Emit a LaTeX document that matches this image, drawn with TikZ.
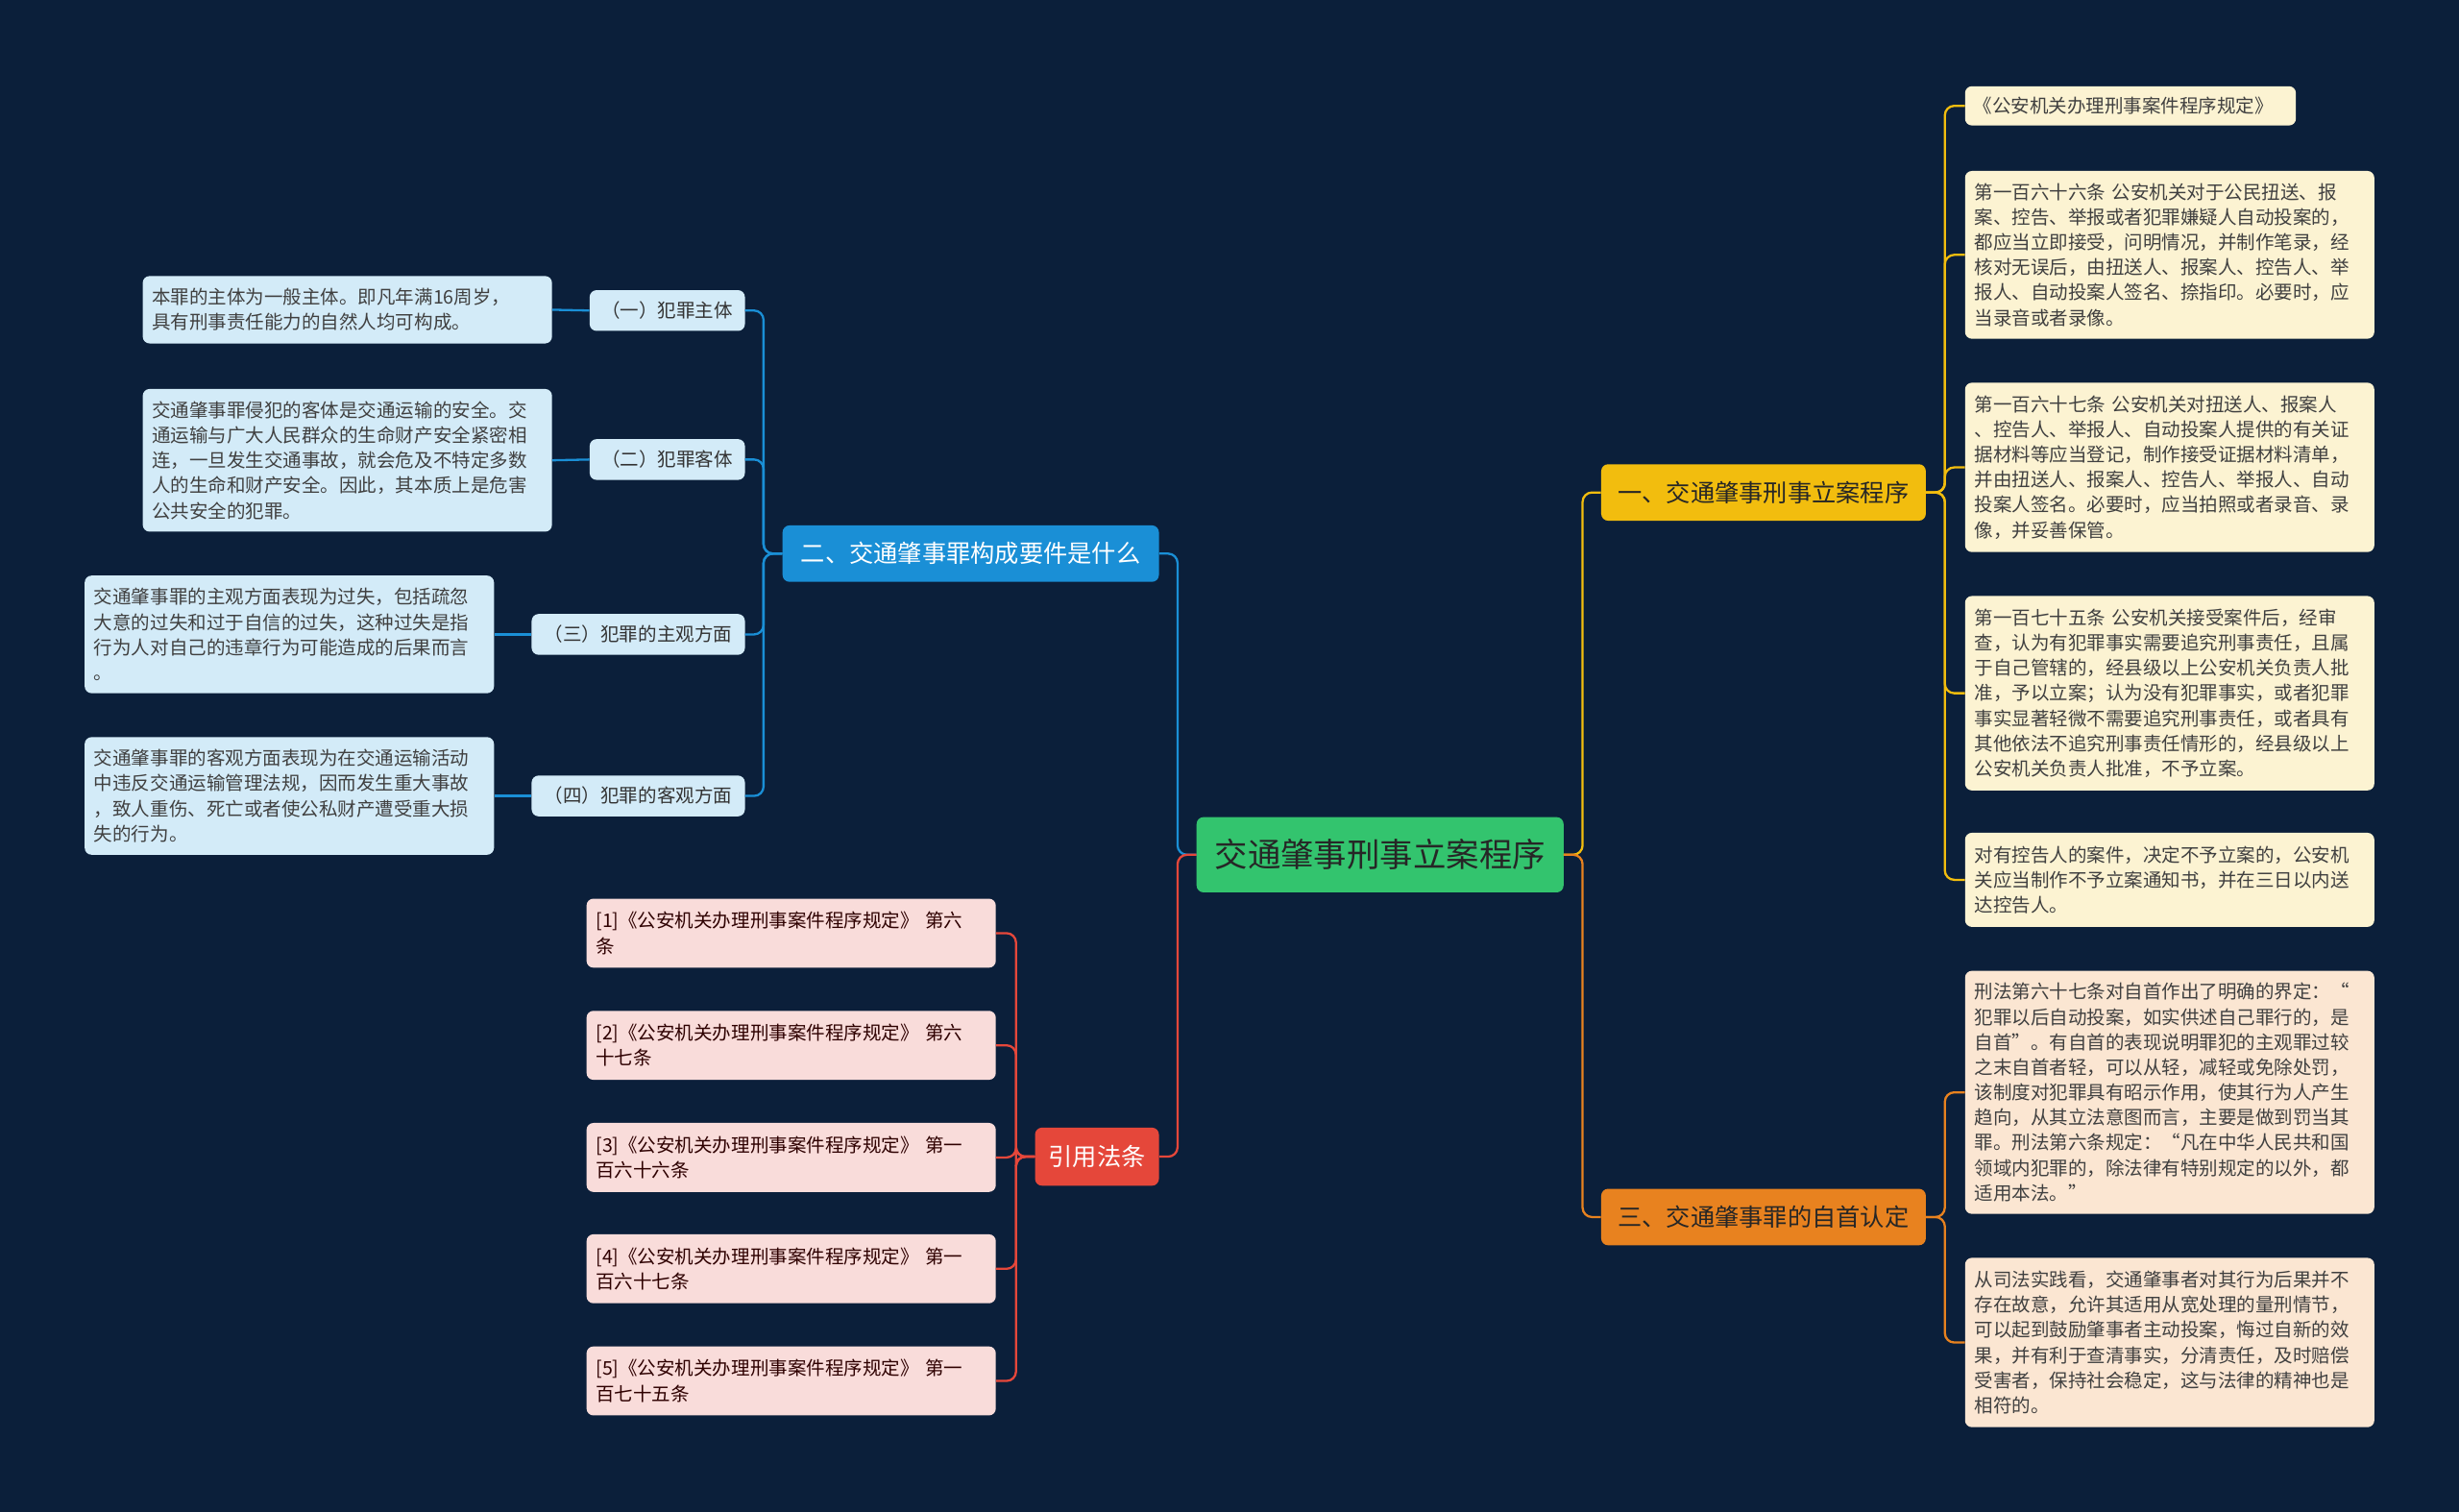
\documentclass[tikz,border=0pt]{standalone}
\usepackage{fontspec}
\setmainfont{Noto Sans CJK SC}
\usetikzlibrary{calc}
\definecolor{bg}{HTML}{0B1F3A}
\definecolor{cgreen}{HTML}{33C46E}
\definecolor{cyellow}{HTML}{F2BD0E}
\definecolor{corange}{HTML}{E8821F}
\definecolor{cblue}{HTML}{1A8FD6}
\definecolor{cred}{HTML}{E5473A}
\definecolor{fyellow}{HTML}{FCF3D2}
\definecolor{forange}{HTML}{FBE6D2}
\definecolor{fblue}{HTML}{D3EBF8}
\definecolor{fred}{HTML}{F9DCDA}
\begin{document}
\begin{tikzpicture}[x=0.05cm,y=-0.05cm,
  box/.style={rounded corners=0.22cm,inner sep=0pt,align=left},
  leaf/.style={box,font=\fontsize{17}{22.8}\selectfont,text=black!75},
  branch/.style={box,align=center,minimum height=1.8cm,font=\fontsize{22}{26}\selectfont},
  conn/.style={line width=2pt,rounded corners=0.3cm},
  sub/.style={box,fill=fblue,minimum height=1.3cm,font=\fontsize{17}{22}\selectfont,text=black!80,align=center}]
\fill[bg] (0,0) rectangle (1568,964);
\useasboundingbox (0,0) rectangle (1568,964);
% root and branches
\node[box,fill=cgreen,minimum width=11.7cm,minimum height=2.4cm,font=\fontsize{30}{34}\selectfont,text=black!85,align=center] (root) at (880,545) {交通肇事刑事立案程序};
\node[branch,fill=cyellow,minimum width=10.35cm,text=black!85] (b1) at (1124.5,314) {一、交通肇事刑事立案程序};
\node[branch,fill=corange,minimum width=10.35cm,text=black!85] (b3) at (1124.5,776) {三、交通肇事罪的自首认定};
\node[branch,fill=cblue,minimum width=12cm,text=white] (b2) at (619,353) {二、交通肇事罪构成要件是什么};
\node[branch,fill=cred,minimum width=3.95cm,minimum height=1.85cm,text=white] (b4) at (699.5,737.5) {引用法条};
% right leaves
\node[leaf,fill=fyellow,minimum width=10.55cm,minimum height=1.25cm,text width=10.0cm] (y1) at (1358.5,67.5) {《公安机关办理刑事案件程序规定》};
\node[leaf,fill=fyellow,minimum width=13.05cm,minimum height=5.35cm,text width=12.45cm] (y2) at (1383.5,162.5) {第一百六十六条 公安机关对于公民扭送、报\\案、控告、举报或者犯罪嫌疑人自动投案的，\\都应当立即接受，问明情况，并制作笔录，经\\核对无误后，由扭送人、报案人、控告人、举\\报人、自动投案人签名、捺指印。必要时，应\\当录音或者录像。};
\node[leaf,fill=fyellow,minimum width=13.05cm,minimum height=5.4cm,text width=12.45cm] (y3) at (1383.5,298) {第一百六十七条 公安机关对扭送人、报案人\\、控告人、举报人、自动投案人提供的有关证\\据材料等应当登记，制作接受证据材料清单，\\并由扭送人、报案人、控告人、举报人、自动\\投案人签名。必要时，应当拍照或者录音、录\\像，并妥善保管。};
\node[leaf,fill=fyellow,minimum width=13.05cm,minimum height=6.2cm,text width=12.45cm] (y4) at (1383.5,442) {第一百七十五条 公安机关接受案件后，经审\\查，认为有犯罪事实需要追究刑事责任，且属\\于自己管辖的，经县级以上公安机关负责人批\\准，予以立案；认为没有犯罪事实，或者犯罪\\事实显著轻微不需要追究刑事责任，或者具有\\其他依法不追究刑事责任情形的，经县级以上\\公安机关负责人批准，不予立案。};
\node[leaf,fill=fyellow,minimum width=13.05cm,minimum height=3.0cm,text width=12.45cm] (y5) at (1383.5,561) {对有控告人的案件，决定不予立案的，公安机\\关应当制作不予立案通知书，并在三日以内送\\达控告人。};
\node[leaf,fill=forange,minimum width=13.05cm,minimum height=7.75cm,text width=12.45cm] (o1) at (1383.5,696.5) {刑法第六十七条对自首作出了明确的界定：“\\犯罪以后自动投案，如实供述自己罪行的，是\\自首”。有自首的表现说明罪犯的主观罪过较\\之末自首者轻，可以从轻，减轻或免除处罚，\\该制度对犯罪具有昭示作用，使其行为人产生\\趋向，从其立法意图而言，主要是做到罚当其\\罪。刑法第六条规定：“凡在中华人民共和国\\领域内犯罪的，除法律有特别规定的以外，都\\适用本法。”};
\node[leaf,fill=forange,minimum width=13.05cm,minimum height=5.4cm,text width=12.45cm] (o2) at (1383.5,856) {从司法实践看，交通肇事者对其行为后果并不\\存在故意，允许其适用从宽处理的量刑情节，\\可以起到鼓励肇事者主动投案，悔过自新的效\\果，并有利于查清事实，分清责任，及时赔偿\\受害者，保持社会稳定，这与法律的精神也是\\相符的。};
% blue subs
\node[sub,minimum width=4.95cm] (s1) at (425.5,198) {（一）犯罪主体};
\node[sub,minimum width=4.95cm] (s2) at (425.5,293) {（二）犯罪客体};
\node[sub,minimum width=6.8cm] (s3) at (407,404.5) {（三）犯罪的主观方面};
\node[sub,minimum width=6.8cm] (s4) at (407,507.5) {（四）犯罪的客观方面};
\node[leaf,fill=fblue,minimum width=13.05cm,minimum height=2.15cm,text width=12.45cm] (t1) at (221.5,197.5) {本罪的主体为一般主体。即凡年满16周岁，\\具有刑事责任能力的自然人均可构成。};
\node[leaf,fill=fblue,minimum width=13.05cm,minimum height=4.55cm,text width=12.45cm] (t2) at (221.5,293.5) {交通肇事罪侵犯的客体是交通运输的安全。交\\通运输与广大人民群众的生命财产安全紧密相\\连，一旦发生交通事故，就会危及不特定多数\\人的生命和财产安全。因此，其本质上是危害\\公共安全的犯罪。};
\node[leaf,fill=fblue,minimum width=13.05cm,minimum height=3.75cm,text width=12.45cm] (t3) at (184.5,404.5) {交通肇事罪的主观方面表现为过失，包括疏忽\\大意的过失和过于自信的过失，这种过失是指\\行为人对自己的违章行为可能造成的后果而言\\。};
\node[leaf,fill=fblue,minimum width=13.05cm,minimum height=3.75cm,text width=12.45cm] (t4) at (184.5,507.5) {交通肇事罪的客观方面表现为在交通运输活动\\中违反交通运输管理法规，因而发生重大事故\\，致人重伤、死亡或者使公私财产遭受重大损\\失的行为。};
% red leaves
\node[leaf,fill=fred,minimum width=13.05cm,minimum height=2.2cm,text width=12.45cm,text=black!70!red!60!black] (r1) at (504.5,595) {[1]《公安机关办理刑事案件程序规定》 第六\\条};
\node[leaf,fill=fred,minimum width=13.05cm,minimum height=2.2cm,text width=12.45cm,text=black!70!red!60!black] (r2) at (504.5,666.5) {[2]《公安机关办理刑事案件程序规定》 第六\\十七条};
\node[leaf,fill=fred,minimum width=13.05cm,minimum height=2.2cm,text width=12.45cm,text=black!70!red!60!black] (r3) at (504.5,738) {[3]《公安机关办理刑事案件程序规定》 第一\\百六十六条};
\node[leaf,fill=fred,minimum width=13.05cm,minimum height=2.2cm,text width=12.45cm,text=black!70!red!60!black] (r4) at (504.5,809) {[4]《公安机关办理刑事案件程序规定》 第一\\百六十七条};
\node[leaf,fill=fred,minimum width=13.05cm,minimum height=2.2cm,text width=12.45cm,text=black!70!red!60!black] (r5) at (504.5,880.5) {[5]《公安机关办理刑事案件程序规定》 第一\\百七十五条};
% connectors
\draw[conn,cyellow] (root.east) -- ++(12,0) |- (b1.west);
\draw[conn,corange] (root.east) -- ++(12,0) |- (b3.west);
\draw[conn,cblue] (root.west) -- ++(-12,0) |- (b2.east);
\draw[conn,cred] (root.west) -- ++(-12,0) |- (b4.east);
\foreach \n in {y1,y2,y3,y4,y5} \draw[conn,cyellow] (b1.east) -- ++(12,0) |- (\n.west);
\foreach \n in {o1,o2} \draw[conn,corange] (b3.east) -- ++(12,0) |- (\n.west);
\foreach \n in {s1,s2,s3,s4} \draw[conn,cblue] (b2.west) -- ++(-12,0) |- (\n.east);
\foreach \n in {r1,r2,r3,r4,r5} \draw[conn,cred] (b4.west) -- ++(-12,0) |- (\n.east);
\draw[conn,cblue] (s1.west) -- (t1.east);
\draw[conn,cblue] (s2.west) -- (t2.east);
\draw[conn,cblue] (s3.west) -- (t3.east);
\draw[conn,cblue] (s4.west) -- (t4.east);
\end{tikzpicture}
\end{document}
